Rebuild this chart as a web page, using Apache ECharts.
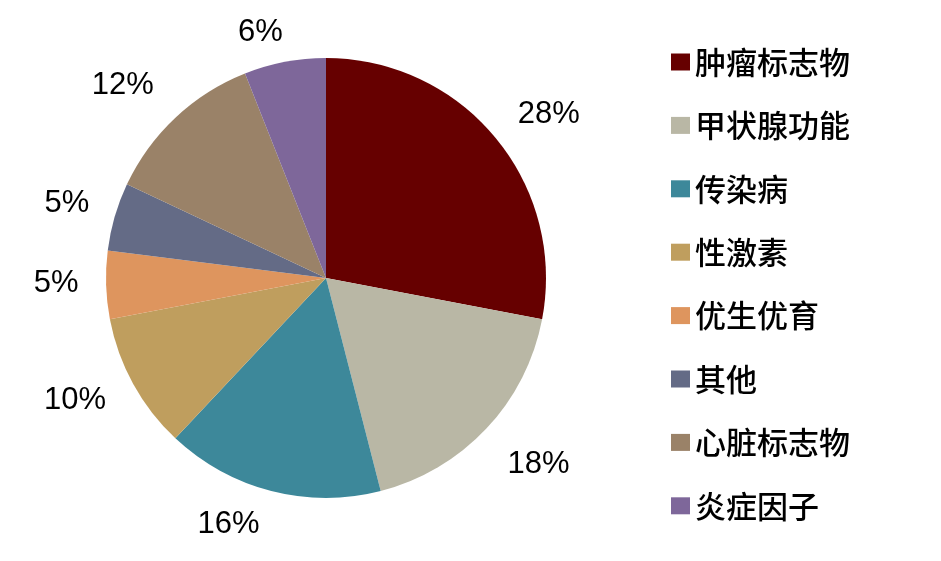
<!DOCTYPE html>
<html><head><meta charset="utf-8">
<script src="https://cdn.jsdelivr.net/npm/echarts@6/dist/echarts.min.js"></script>
<style>html,body{margin:0;padding:0;background:#fff}#c{width:941px;height:561px}</style>
</head><body><div id="c"></div>
<script>
const categories = ['肿瘤标志物','甲状腺功能','传染病','性激素','优生优育','其他','心脏标志物','炎症因子'];
const values = [28, 18, 16, 10, 5, 5, 12, 6];
const colors = ['#660000','#B9B7A5','#3D889A','#BF9E5E','#DE955E','#646B86','#9A8268','#7E679A'];
// small nudges of each percentage label (pixels), to mimic the original placement
const labelNudge = [[11,12],[12,-2],[-29,-20],[-10,-10],[5,-3],[5,2],[-15,8],[-14,25]];

const chart = echarts.init(document.getElementById('c'));
chart.setOption({
  animation: false,
  legend: {
    orient: 'vertical', left: 671, top: 45, padding: 0,
    icon: 'rect', itemWidth: 19, itemHeight: 17, itemGap: 29.4,
    textStyle: { fontFamily: 'Noto Sans CJK SC', fontSize: 31, lineHeight: 34, color: '#000', fontWeight: 500 },
    data: categories
  },
  series: [
    {
      type: 'pie', center: [326, 278], radius: [0, 220], startAngle: 90, clockwise: true,
      silent: true, label: { show: false }, labelLine: { show: false },
      data: categories.map((n, i) => ({ name: n, value: values[i], itemStyle: { color: colors[i] } }))
    },
    {
      type: 'pie', center: [326, 278], radius: [0, 544], startAngle: 90, clockwise: true,
      silent: true, legendHoverLink: false,
      itemStyle: { color: 'rgba(0,0,0,0)' },
      label: { show: true, position: 'inside', formatter: '{c}%', fontFamily: 'Liberation Sans', fontSize: 31, color: '#000' },
      labelLine: { show: false },
      data: categories.map((n, i) => ({
        name: n + ' ', value: values[i],
        itemStyle: { color: 'rgba(0,0,0,0)' },
        label: { offset: labelNudge[i] }
      }))
    }
  ]
});
</script></body></html>
